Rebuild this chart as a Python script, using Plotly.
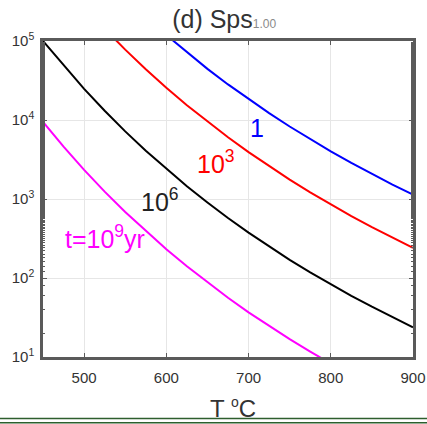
import plotly.graph_objects as go

# ---- data ----
black_T = [450, 475, 500, 525, 550, 575, 600, 625, 650, 675, 700, 725, 750, 775, 800, 825, 850, 875, 900]
black_t = [1.0e5, 4.90e4, 2.48e4, 1.31e4, 7.18e3, 4.08e3, 2.40e3, 1.45e3, 904, 575, 376, 251, 170, 118, 83.2, 59.4, 43.3, 31.8, 23.8]

red_T = [525, 550, 575, 600, 625, 650, 675, 700, 725, 750, 775, 800, 825, 850, 875, 900]
red_t = [1.43e5, 7.77e4, 4.39e4, 2.56e4, 1.54e4, 9.52e3, 6.04e3, 3.92e3, 2.60e3, 1.76e3, 1.21e3, 851, 607, 440, 322, 240]

blue_T = [600, 625, 650, 675, 700, 725, 750, 775, 800, 825, 850, 875, 900]
blue_t = [1.19e5, 7.18e4, 4.44e4, 2.82e4, 1.84e4, 1.22e4, 8.27e3, 5.71e3, 4.01e3, 2.86e3, 2.07e3, 1.52e3, 1.14e3]

mag_T = [450, 475, 500, 525, 550, 575, 600, 625, 650, 675, 700, 725, 750, 775, 800]
mag_t = [9.44e3, 4.59e3, 2.34e3, 1.24e3, 685, 392, 231, 141, 87.8, 56.2, 36.8, 24.6, 16.8, 11.7, 8.26]

x_ticks = [500, 600, 700, 800, 900]
y_ticks = [10, 100, 1000, 10000, 100000]
y_ticktext = ["10<sup>1</sup>", "10<sup>2</sup>", "10<sup>3</sup>", "10<sup>4</sup>", "10<sup>5</sup>"]

FONT = "Liberation Sans, Arial, sans-serif"

fig = go.Figure()
for T, t, c in [(blue_T, blue_t, "#0000ff"), (red_T, red_t, "#ff0000"),
                (black_T, black_t, "#000000"), (mag_T, mag_t, "#ff00ff")]:
    fig.add_trace(go.Scatter(x=T, y=t, mode="lines",
                             line=dict(color=c, width=2),
                             showlegend=False, hoverinfo="skip"))

axis_common = dict(showline=True, linecolor="#5a5a5a", linewidth=2.5, mirror="ticks",
                   ticks="inside", tickcolor="#5a5a5a", ticklen=4,
                   showgrid=True, gridcolor="#e6e6e6", gridwidth=1, zeroline=False,
                   tickfont=dict(family=FONT, size=15, color="#333333"))

fig.update_xaxes(range=[450, 900], tickvals=x_ticks, ticklabelstandoff=5, **axis_common)
fig.update_yaxes(type="log", range=[1, 5], tickvals=y_ticks, ticktext=y_ticktext,
                 ticklabelstandoff=3,
                 minor=dict(ticks="inside", ticklen=2.5, tickcolor="#5a5a5a", showgrid=False),
                 **axis_common)

labels = [
    (710.3, 3.894, "1", "#0000ff"),
    (661.0, 3.47, "10<sup>3</sup>", "#ff0000"),
    (591.7, 2.99, "10<sup>6</sup>", "#222222"),
    (525.0, 2.52, "t=10<sup>9</sup>yr", "#ff00ff"),
]
ann = []
for x, y, txt, c in labels:
    ann.append(dict(x=x, y=y, xref="x", yref="y", text=txt, showarrow=False,
                    font=dict(family=FONT, size=25, color=c)))
ann.append(dict(x=0.5135, y=-0.213, xref="paper", yref="paper",
                text="T <sup><span style='font-size:14px'>o</span></sup>C",
                showarrow=False, font=dict(family=FONT, size=24, color="#333333")))

fig.update_layout(
    width=427, height=424,
    margin=dict(l=43, r=14, t=41, b=66.5, autoexpand=False),
    paper_bgcolor="white", plot_bgcolor="white",
    title=dict(text="(d) Sps<span style='font-size:12px;color:#8a8a8a'>1.00</span>",
               x=0.525, xanchor="center", y=0.975, yanchor="top",
               font=dict(family=FONT, size=25, color="#333333")),
    annotations=ann,
    shapes=[
        dict(type="line", xref="paper", yref="paper", x0=-0.2, x1=1.2, y0=-0.1943, y1=-0.1943,
             line=dict(color="#2d5e2d", width=1.5)),
        dict(type="line", xref="paper", yref="paper", x0=-0.2, x1=1.2, y0=-0.2079, y1=-0.2079,
             line=dict(color="#2d5e2d", width=1.5)),
    ],
)

fig.write_html("out.html")
